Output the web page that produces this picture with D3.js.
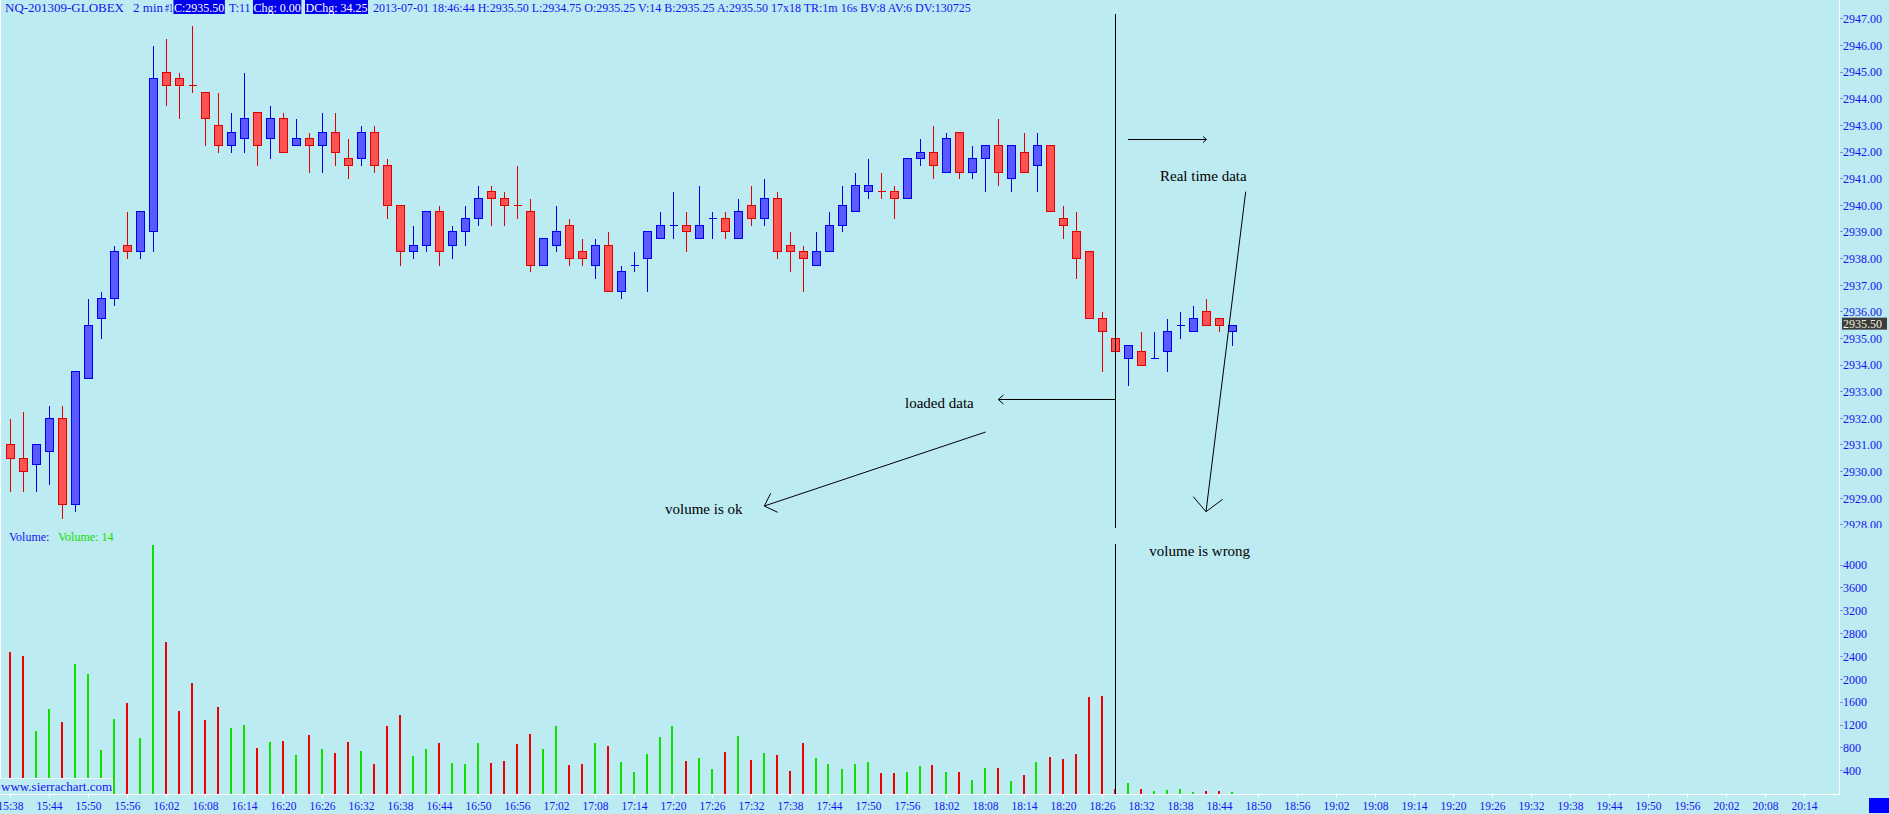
<!DOCTYPE html>
<html><head><meta charset="utf-8">
<script src="https://cdn.jsdelivr.net/npm/d3@7"></script>
<style>
html,body{margin:0;padding:0;background:#bdebf2;overflow:hidden}
svg{display:block}
text{font-family:"Liberation Serif","Times New Roman",serif;white-space:pre}
</style></head><body>
<svg id="c" width="1889" height="814"></svg>
<script>
// ---------------- DATA ----------------
const barTimes = ["15:38","15:40","15:42","15:44","15:46","15:48","15:50","15:52","15:54","15:56",
"15:58","16:00","16:02","16:04","16:06","16:08","16:10","16:12","16:14","16:16",
"16:18","16:20","16:22","16:24","16:26","16:28","16:30","16:32","16:34","16:36",
"16:38","16:40","16:42","16:44","16:46","16:48","16:50","16:52","16:54","16:56",
"16:58","17:00","17:02","17:04","17:06","17:08","17:10","17:12","17:14","17:16",
"17:18","17:20","17:22","17:24","17:26","17:28","17:30","17:32","17:34","17:36",
"17:38","17:40","17:42","17:44","17:46","17:48","17:50","17:52","17:54","17:56",
"17:58","18:00","18:02","18:04","18:06","18:08","18:10","18:12","18:14","18:16",
"18:18","18:20","18:22","18:24","18:26","18:28","18:30","18:32","18:34","18:36",
"18:38","18:40","18:42","18:44","18:46"];

const opens = [2931.00,2930.50,2930.25,2930.75,2932.00,2928.75,2933.50,2935.75,2936.50,2938.50,
2938.25,2939.00,2945.00,2944.75,2944.50,2944.25,2943.00,2942.25,2942.50,2943.50,
2942.50,2943.25,2942.25,2942.50,2942.25,2942.75,2941.75,2941.75,2942.75,2941.50,
2940.00,2938.25,2938.50,2939.75,2938.50,2939.00,2939.50,2940.50,2940.25,2940.00,
2939.75,2937.75,2938.50,2939.25,2938.25,2937.75,2938.50,2936.75,2937.75,2938.00,
2938.75,2939.25,2939.25,2938.75,2939.50,2939.50,2938.75,2940.00,2939.50,2940.25,
2938.50,2938.25,2937.75,2938.25,2939.25,2939.75,2940.50,2940.50,2940.50,2940.25,
2941.75,2942.00,2941.25,2942.75,2941.25,2941.75,2942.25,2941.00,2942.00,2941.50,
2942.25,2939.50,2939.00,2938.25,2935.75,2935.00,2934.25,2934.50,2934.25,2934.50,
2935.50,2935.25,2936.00,2935.75,2935.25];

const highs = [2932.00,2932.25,2931.00,2932.50,2932.50,2933.75,2936.50,2936.75,2938.50,2939.75,
2939.75,2946.00,2946.25,2945.00,2946.75,2944.25,2944.25,2943.50,2945.00,2943.50,
2943.75,2943.50,2943.25,2942.75,2943.50,2943.50,2942.50,2943.00,2943.00,2941.75,
2940.00,2939.25,2939.75,2940.00,2939.25,2940.00,2940.75,2940.75,2940.50,2941.50,
2940.25,2938.75,2940.00,2939.50,2938.75,2938.75,2939.00,2937.75,2938.25,2939.00,
2939.75,2940.50,2939.75,2940.75,2939.75,2939.75,2940.25,2940.75,2941.00,2940.50,
2939.00,2938.50,2939.00,2939.75,2940.75,2941.25,2941.75,2941.25,2940.75,2941.75,
2942.50,2943.00,2942.75,2942.75,2942.25,2942.25,2943.25,2942.25,2942.75,2942.75,
2942.25,2940.00,2939.75,2938.25,2936.00,2935.00,2934.75,2935.25,2935.25,2935.75,
2936.00,2936.25,2936.50,2935.75,2935.50];

const lows = [2929.25,2929.25,2929.25,2929.50,2928.25,2928.50,2933.50,2935.00,2936.25,2938.00,
2938.00,2938.25,2943.75,2943.25,2944.25,2942.25,2942.00,2942.00,2942.00,2941.50,
2941.75,2942.00,2942.25,2941.25,2941.25,2941.50,2941.00,2941.50,2941.25,2939.50,
2937.75,2938.00,2938.25,2937.75,2938.00,2938.50,2939.25,2939.25,2939.25,2939.50,
2937.50,2937.75,2938.25,2937.75,2937.75,2937.25,2936.75,2936.50,2937.50,2936.75,
2938.75,2938.75,2938.25,2938.75,2938.75,2938.75,2938.75,2939.25,2939.25,2938.00,
2937.50,2936.75,2937.75,2938.25,2939.00,2939.75,2940.25,2940.25,2939.50,2940.25,
2941.50,2941.00,2941.25,2941.00,2941.00,2940.50,2940.75,2940.50,2941.25,2940.50,
2939.75,2938.75,2937.25,2935.75,2933.75,2934.50,2933.25,2934.00,2934.25,2933.75,
2935.00,2935.25,2935.50,2935.25,2934.75];

const closes = [2930.50,2930.00,2931.00,2932.00,2928.75,2933.75,2935.50,2936.50,2938.25,2938.25,
2939.75,2944.75,2944.50,2944.50,2944.50,2943.25,2942.25,2942.75,2943.25,2942.25,
2943.25,2942.00,2942.50,2942.25,2942.75,2942.00,2941.50,2942.75,2941.50,2940.00,
2938.25,2938.50,2939.75,2938.25,2939.00,2939.50,2940.25,2940.25,2940.00,2940.00,
2937.75,2938.75,2939.00,2938.00,2938.00,2938.50,2936.75,2937.50,2937.75,2939.00,
2939.25,2939.25,2939.00,2939.25,2939.50,2939.00,2939.75,2939.50,2940.25,2938.25,
2938.25,2938.00,2938.25,2939.25,2940.00,2940.75,2940.75,2940.50,2940.25,2941.75,
2942.00,2941.50,2942.50,2941.25,2941.75,2942.25,2941.25,2942.25,2941.25,2942.25,
2939.75,2939.25,2938.00,2935.75,2935.25,2934.50,2934.75,2934.00,2934.25,2935.25,
2935.50,2935.75,2935.50,2935.50,2935.50];

// 1 = up bar, -1 = down bar
const barDir = [-1,-1,1,1,-1,1,1,1,1,-1, 1,1,-1,-1,-1,-1,-1,1,1,-1,
1,-1,1,-1,1,-1,-1,1,-1,-1, -1,1,1,-1,1,1,1,-1,-1,-1,
-1,1,1,-1,-1,1,-1,1,1,1, 1,1,-1,1,1,-1,1,-1,1,-1,
-1,-1,1,1,1,1,1,-1,-1,1, 1,-1,1,-1,1,1,-1,1,-1,1,
-1,-1,-1,-1,-1,-1,1,-1,1,1, 1,1,-1,-1,1];

const volumes = [2480,2410,1100,1480,1250,2270,2090,760,1310,1590,
970,4350,2650,1450,1940,1290,1520,1150,1200,800,
900,920,680,1030,780,710,900,750,520,1180,
1380,660,780,890,540,520,890,540,570,870,
1040,780,1180,500,520,890,830,550,380,690,
990,1180,570,620,430,730,1010,590,710,680,
400,890,620,520,430,520,550,360,360,380,
480,500,380,380,240,450,450,220,330,550,
640,610,690,1690,1710,80,190,80,45,65,
80,30,45,45,14];

const timeTickLabels = ["15:38","15:44","15:50","15:56","16:02","16:08","16:14","16:20","16:26","16:32",
"16:38","16:44","16:50","16:56","17:02","17:08","17:14","17:20","17:26","17:32",
"17:38","17:44","17:50","17:56","18:02","18:08","18:14","18:20","18:26","18:32",
"18:38","18:44","18:50","18:56","19:02","19:08","19:14","19:20","19:26","19:32",
"19:38","19:44","19:50","19:56","20:02","20:08","20:14"];

const priceTicks = [2928,2929,2930,2931,2932,2933,2934,2935,2936,2937,2938,2939,2940,2941,2942,2943,2944,2945,2946,2947];
const volumeTicks = [400,800,1200,1600,2000,2400,2800,3200,3600,4000];
const lastPrice = 2935.50;
const lastVolume = 14;

const headerSegments = [
  {t:"NQ-201309-GLOBEX", x:5, w:119, hl:false},
  {t:"2 min", x:133, w:30, hl:false},
  {t:"#1", x:165, w:8, hl:false},
  {t:"C:2935.50", x:174, hl:true},
  {t:"T:11", x:229, hl:false},
  {t:"Chg: 0.00", x:253.5, hl:true},
  {t:"DChg: 34.25", x:305.5, hl:true},
  {t:"2013-07-01 18:46:44 H:2935.50 L:2934.75 O:2935.25 V:14 B:2935.25 A:2935.50 17x18 TR:1m 16s BV:8 AV:6 DV:130725", x:373, hl:false}
];

// ---------------- STYLE / LAYOUT ----------------
const BG = "#bdebf2", BLUE_TXT = "#1414f0";
const UP_FILL = "#5a5aff", UP_LINE = "#0000f0", DN_FILL = "#ff5252", DN_LINE = "#e00000";
const VOL_UP = "#10e000", VOL_DN = "#f00000";
const AXIS_X = 1839.5, BASE_Y = 794.5, PRICE_BOTTOM = 528;

const svg = d3.select("#c");
svg.append("rect").attr("width",1889).attr("height",814).attr("fill",BG);

const toMin = s => { const [h,m] = s.split(":").map(Number); return h*60+m; };
const x = d3.scaleLinear().domain([toMin("15:38"), toMin("20:14")]).range([10.5, 10.5 + 138*13]);
const y = d3.scaleLinear().domain([2947, 2928]).range([18.9, 18.9 + 19*26.63]);
const yv = d3.scaleLinear().domain([0, 4000]).range([793.6, 565]);

const bars = barTimes.map((t,i)=>({t, m:toMin(t), o:opens[i], h:highs[i], l:lows[i], c:closes[i], d:barDir[i], v:volumes[i]}));
const hp = v => Math.round(v - 0.5) + 0.5;

// ---------------- VOLUME ----------------
const gv = svg.append("g");
gv.selectAll("rect").data(bars).enter().append("rect")
  .attr("x", d => Math.round(x(d.m)) - 2)
  .attr("width", 2)
  .attr("y", d => Math.min(Math.round(yv(d.v)), 792))
  .attr("height", d => 794 - Math.min(Math.round(yv(d.v)), 792))
  .attr("fill", d => d.d > 0 ? VOL_UP : VOL_DN);

// ---------------- CANDLES ----------------
const gc = svg.append("g").attr("shape-rendering","crispEdges");
const cg = gc.selectAll("g").data(bars).enter().append("g");
cg.append("line")
  .attr("x1", d => x(d.m)).attr("x2", d => x(d.m))
  .attr("y1", d => hp(y(d.h))).attr("y2", d => hp(y(d.l)))
  .attr("stroke", d => d.d > 0 ? UP_LINE : DN_LINE).attr("stroke-width",1);
cg.filter(d => d.o !== d.c).append("rect")
  .attr("x", d => x(d.m) - 4).attr("width", 8)
  .attr("y", d => hp(y(Math.max(d.o,d.c))))
  .attr("height", d => hp(y(Math.min(d.o,d.c))) - hp(y(Math.max(d.o,d.c))))
  .attr("fill", d => d.d > 0 ? UP_FILL : DN_FILL)
  .attr("stroke", d => d.d > 0 ? UP_LINE : DN_LINE).attr("stroke-width",1);
cg.filter(d => d.o === d.c).append("line")
  .attr("x1", d => x(d.m) - 4).attr("x2", d => x(d.m) + 4)
  .attr("y1", d => hp(y(d.o))).attr("y2", d => hp(y(d.o)))
  .attr("stroke", d => d.d > 0 ? UP_LINE : DN_LINE).attr("stroke-width",1);

// ---------------- AXES ----------------
svg.append("line").attr("x1",0.5).attr("x2",0.5).attr("y1",0).attr("y2",BASE_Y).attr("stroke","#ffffff");
svg.append("line").attr("x1",AXIS_X).attr("x2",AXIS_X).attr("y1",0).attr("y2",BASE_Y).attr("stroke","#ffffff");
svg.append("line").attr("x1",0).attr("x2",AXIS_X).attr("y1",BASE_Y).attr("y2",BASE_Y).attr("stroke","#ffffff");

svg.append("clipPath").attr("id","pc").append("rect").attr("x",1800).attr("y",0).attr("width",89).attr("height",PRICE_BOTTOM);
const pa = svg.append("g").attr("clip-path","url(#pc)");
priceTicks.forEach(p => {
  pa.append("line").attr("x1",AXIS_X+0.5).attr("x2",AXIS_X+3.5).attr("y1",hp(y(p))).attr("y2",hp(y(p)))
    .attr("stroke","#8090e6");
  pa.append("text").attr("x",1843).attr("y",y(p)+4.3).attr("font-size","12px").attr("fill",BLUE_TXT)
    .text(p.toFixed(2));
});
// last price marker
const ly = y(lastPrice) - 1.5;
svg.append("rect").attr("x",1842).attr("y",ly-6).attr("width",45).attr("height",12).attr("fill","#3c3c3c");
svg.append("text").attr("x",1843).attr("y",ly+4.3).attr("font-size","12px").attr("fill","#f2f2dc").text(lastPrice.toFixed(2));

volumeTicks.forEach(v => {
  svg.append("line").attr("x1",AXIS_X+0.5).attr("x2",AXIS_X+3.5).attr("y1",hp(yv(v))).attr("y2",hp(yv(v)))
    .attr("stroke","#8090e6");
  svg.append("text").attr("x",1843).attr("y",yv(v)+4.3).attr("font-size","12px").attr("fill",BLUE_TXT).text(v);
});

timeTickLabels.forEach(s => {
  const tx = x(toMin(s));
  svg.append("line").attr("x1",tx).attr("x2",tx).attr("y1",795).attr("y2",798).attr("stroke","#ffffff");
  svg.append("text").attr("x",tx).attr("y",809.5).attr("text-anchor","middle").attr("font-size","11.5px")
    .attr("fill",BLUE_TXT).text(s);
});

// bottom-right square
svg.append("rect").attr("x",1869).attr("y",798).attr("width",20).attr("height",15).attr("fill","#0000ff");

// ---------------- HEADER ----------------
const hg = svg.append("g");
headerSegments.forEach(s => {
  const t = hg.append("text").attr("x",s.x).attr("y",11.5).attr("font-size","12px")
    .attr("fill", s.hl ? "#ffffff" : BLUE_TXT).text(s.t);
  if (s.w) t.attr("textLength", s.w).attr("lengthAdjust","spacingAndGlyphs");
  if (s.hl) {
    const w = t.node().getComputedTextLength();
    hg.insert("rect","text").attr("x",s.x-0.5).attr("y",0).attr("width",w+1).attr("height",14).attr("fill","#0000ee");
  }
});

// volume panel labels
svg.append("text").attr("x",9).attr("y",541).attr("font-size","12px").attr("fill",BLUE_TXT).text("Volume:");
svg.append("text").attr("x",58).attr("y",541).attr("font-size","12px").attr("fill","#10e000").text("Volume: " + lastVolume);

svg.append("rect").attr("x",0).attr("y",779).attr("width",113).attr("height",15).attr("fill",BG);
svg.append("line").attr("x1",0).attr("x2",113).attr("y1",778.5).attr("y2",778.5).attr("stroke","#e8f8fb");
svg.append("line").attr("x1",112.5).attr("x2",112.5).attr("y1",778.5).attr("y2",794).attr("stroke","#e8f8fb");
svg.append("text").attr("x",1).attr("y",790.5).attr("font-size","13px").attr("fill",BLUE_TXT).text("www.sierrachart.com");

// ---------------- ANNOTATIONS ----------------
const ag = svg.append("g").attr("stroke","#000").attr("stroke-width",1).attr("fill","none");
const vx = x(toMin("18:28"));
ag.append("line").attr("x1",vx).attr("x2",vx).attr("y1",14).attr("y2",PRICE_BOTTOM);
ag.append("line").attr("x1",vx).attr("x2",vx).attr("y1",544).attr("y2",794);
const pl = pts => ag.append("polyline").attr("points", pts.map(p=>p.join(",")).join(" "));
pl([[1128,139.5],[1206.5,139.5]]);
pl([[1203,136.5],[1206.5,139.5],[1203,142.5]]);
pl([[1245.7,191.7],[1206,511.7]]);
pl([[1193.3,496.7],[1206,511.7],[1222.7,499.3]]);
pl([[vx,399.5],[998.3,399.5]]);
pl([[1003.5,395],[998.3,399.5],[1003.5,404]]);
pl([[985.7,432],[764.3,506]]);
pl([[770.7,493.3],[764.3,506],[777.7,512.3]]);

const note = (t,tx,ty) => svg.append("text").attr("x",tx).attr("y",ty).attr("font-size","15px").attr("fill","#000").text(t);
note("Real time data",1160,181);
note("loaded data",905,408);
note("volume is ok",665,514.3);
note("volume is wrong",1149.3,556);
</script>
</body></html>
